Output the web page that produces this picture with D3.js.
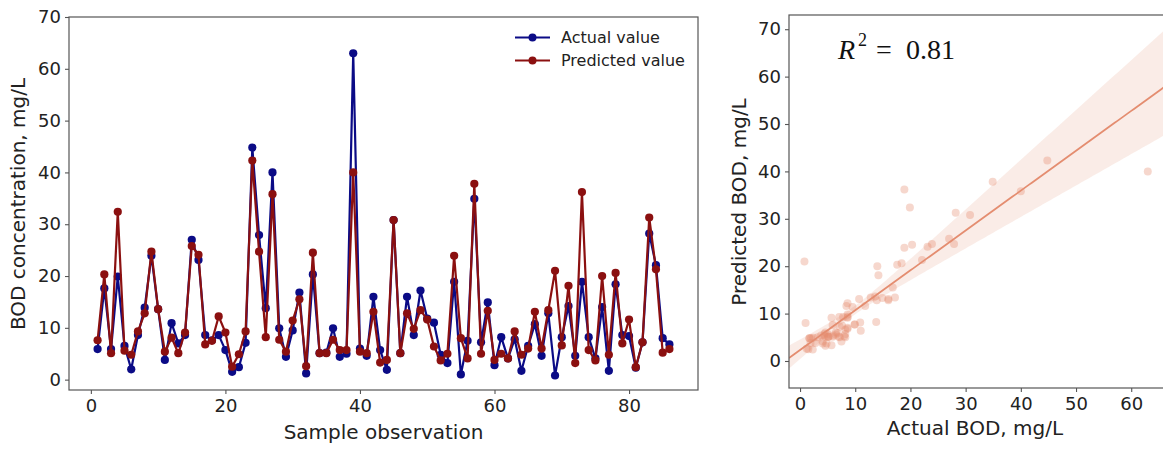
<!DOCTYPE html>
<html>
<head>
<meta charset="utf-8">
<script src="https://cdn.jsdelivr.net/npm/d3@7"></script>
<style>
  body { margin: 0; background: #fff; }
  text { font-family: "DejaVu Sans", sans-serif; fill: #222; }
  text.serif { font-family: "Liberation Serif", serif; fill: #111; }
</style>
</head>
<body>
<svg id="chart" width="1163" height="449"></svg>
<script>
// BOD concentration (mg/L) per sample observation
const actualBOD = [5.9, 17.6, 5.9, 19.9, 6.5, 2.0, 8.6, 13.9, 23.9, 13.6,
  3.8, 10.9, 7.0, 8.6, 27.0, 23.1, 8.6, 7.6, 8.6, 5.7,
  1.5, 2.4, 7.1, 44.8, 27.9, 13.8, 40.0, 9.9, 4.4, 9.5,
  16.8, 1.2, 20.3, 5.1, 5.2, 9.9, 4.4, 5.0, 63.0, 6.0,
  4.6, 16.0, 5.7, 1.9, 30.8, 5.1, 16.0, 8.6, 17.2, 11.8,
  11.0, 4.8, 3.2, 18.9, 1.0, 7.5, 34.9, 7.2, 14.9, 2.8,
  8.2, 4.1, 7.8, 1.7, 6.5, 10.7, 4.6, 12.8, 0.8, 8.2,
  14.2, 4.6, 18.9, 8.2, 4.1, 14.0, 1.7, 18.4, 8.6, 8.4,
  2.3, 7.2, 28.2, 22.1, 8.0, 6.8];

const predictedBOD = [7.6, 20.3, 5.1, 32.4, 5.6, 4.8, 9.3, 12.8, 24.7, 13.6,
  5.4, 8.1, 5.1, 9.1, 25.8, 24.1, 6.8, 7.5, 12.2, 9.1,
  2.5, 4.9, 9.3, 42.3, 24.7, 8.2, 35.8, 7.7, 5.4, 11.4,
  15.5, 2.6, 24.5, 5.1, 5.1, 7.7, 5.7, 5.7, 40.0, 5.4,
  5.1, 13.1, 3.3, 3.8, 30.8, 5.1, 12.8, 9.8, 13.4, 11.6,
  6.4, 3.7, 5.0, 23.9, 8.0, 4.1, 37.8, 5.0, 13.3, 3.8,
  5.0, 4.1, 9.3, 4.8, 6.0, 13.1, 6.0, 13.4, 21.0, 6.6,
  18.1, 3.2, 36.2, 5.7, 3.7, 20.0, 4.8, 20.6, 7.0, 11.6,
  2.4, 7.2, 31.3, 21.3, 5.2, 5.9];

const seriesNames = ["Actual value", "Predicted value"];
const seriesColors = ["#0b0b86", "#8b1010"];

const lineXTicks = [0, 20, 40, 60, 80];
const lineYTicks = [0, 10, 20, 30, 40, 50, 60, 70];
const scatterXTicks = [0, 10, 20, 30, 40, 50, 60];
const scatterYTicks = [0, 10, 20, 30, 40, 50, 60, 70];
const r2Label = "0.81";

const svg = d3.select("#chart");
const spineColor = "#555";

function styleAxis(g) {
  g.select(".domain").remove();
  g.selectAll(".tick line").attr("stroke", spineColor).attr("stroke-width", 1.1);
  g.selectAll(".tick text").attr("font-size", 18).attr("fill", "#222");
}

// ---------- Left panel: observed vs predicted series ----------
const obs = actualBOD.map((_, i) => i + 1);
const xL = d3.scaleLinear().domain([-3.25, 90.25]).range([69, 698]);
const yL = d3.scaleLinear().domain([-2, 70]).range([390, 17]);

const left = svg.append("g");
left.append("g").attr("transform", "translate(0,390)")
  .call(d3.axisBottom(xL).tickValues(lineXTicks).tickSize(4).tickPadding(5))
  .call(styleAxis);
left.append("g").attr("transform", "translate(69,0)")
  .call(d3.axisLeft(yL).tickValues(lineYTicks).tickSize(4).tickPadding(4))
  .call(styleAxis);
left.append("rect").attr("x", 69).attr("y", 17).attr("width", 629).attr("height", 373)
  .attr("fill", "none").attr("stroke", spineColor).attr("stroke-width", 1.2);

[actualBOD, predictedBOD].forEach((vals, k) => {
  const line = d3.line().x((d, i) => xL(obs[i])).y(d => yL(d));
  left.append("path").datum(vals).attr("d", line)
    .attr("fill", "none").attr("stroke", seriesColors[k]).attr("stroke-width", 2.2)
    .attr("stroke-linejoin", "round");
  left.selectAll(null).data(vals).enter().append("circle")
    .attr("cx", (d, i) => xL(obs[i])).attr("cy", d => yL(d)).attr("r", 4.1)
    .attr("fill", seriesColors[k]);
});

left.append("text").attr("x", xL(43.5)).attr("y", 439).attr("text-anchor", "middle")
  .attr("font-size", 20).text("Sample observation");
left.append("text").attr("transform", "translate(25,204) rotate(-90)")
  .attr("text-anchor", "middle").attr("font-size", 20).text("BOD concentration, mg/L");

// legend
const leg = left.append("g");
seriesNames.forEach((name, k) => {
  const ly = 37.5 + k * 23;
  leg.append("line").attr("x1", 515).attr("x2", 550).attr("y1", ly).attr("y2", ly)
    .attr("stroke", seriesColors[k]).attr("stroke-width", 2.2);
  leg.append("circle").attr("cx", 532.5).attr("cy", ly).attr("r", 4).attr("fill", seriesColors[k]);
  leg.append("text").attr("x", 561).attr("y", ly).attr("dy", "0.35em")
    .attr("font-size", 16).text(name);
});

// ---------- Right panel: regression of predicted on actual ----------
const xR = d3.scaleLinear().domain([-2, 66.3]).range([789, 1166]);
const yR = d3.scaleLinear().domain([-5.7, 73]).range([388, 15]);
const regColor = "#e48d70";

// ordinary least squares fit
const n = actualBOD.length;
const sx = d3.sum(actualBOD), sy = d3.sum(predictedBOD);
const sxx = d3.sum(actualBOD, d => d * d);
const sxy = d3.sum(actualBOD, (d, i) => d * predictedBOD[i]);
const det = n * sxx - sx * sx;
const slope = (n * sxy - sx * sy) / det;
const intercept = (sy - slope * sx) / n;

// heteroskedasticity-robust (sandwich) covariance of the coefficients
const res = predictedBOD.map((p, i) => p - (intercept + slope * actualBOD[i]));
const m00 = d3.sum(res, e => e * e);
const m01 = d3.sum(res, (e, i) => actualBOD[i] * e * e);
const m11 = d3.sum(res, (e, i) => actualBOD[i] * actualBOD[i] * e * e);
const inv = [[sxx / det, -sx / det], [-sx / det, n / det]];
function mul(A, B) {
  return [[A[0][0] * B[0][0] + A[0][1] * B[1][0], A[0][0] * B[0][1] + A[0][1] * B[1][1]],
          [A[1][0] * B[0][0] + A[1][1] * B[1][0], A[1][0] * B[0][1] + A[1][1] * B[1][1]]];
}
const V = mul(mul(inv, [[m00, m01], [m01, m11]]), inv);
const xs = d3.range(-2, 66.31, 0.5);
const band = xs.map(x => {
  const se = Math.sqrt(V[0][0] + 2 * x * V[0][1] + x * x * V[1][1]);
  const f = intercept + slope * x;
  return { x, lo: f - 1.96 * se, hi: f + 2.3 * se, f };
});

const right = svg.append("g");
const clipR = svg.append("clipPath").attr("id", "clipR");
clipR.append("rect").attr("x", 789).attr("y", 15).attr("width", 377).attr("height", 373);

right.append("path").datum(band).attr("clip-path", "url(#clipR)")
  .attr("d", d3.area().x(d => xR(d.x)).y0(d => yR(d.lo)).y1(d => yR(d.hi)))
  .attr("fill", regColor).attr("fill-opacity", 0.17);

right.append("g").attr("clip-path", "url(#clipR)").selectAll("circle")
  .data(actualBOD).enter().append("circle")
  .attr("cx", d => xR(d)).attr("cy", (d, i) => yR(predictedBOD[i])).attr("r", 4)
  .attr("fill", regColor).attr("fill-opacity", 0.35);

right.append("path").datum(band).attr("clip-path", "url(#clipR)")
  .attr("d", d3.line().x(d => xR(d.x)).y(d => yR(d.f)))
  .attr("fill", "none").attr("stroke", regColor).attr("stroke-width", 1.8);

right.append("g").attr("transform", "translate(0,388)")
  .call(d3.axisBottom(xR).tickValues(scatterXTicks).tickSize(4).tickPadding(5))
  .call(styleAxis);
right.append("g").attr("transform", "translate(789,0)")
  .call(d3.axisLeft(yR).tickValues(scatterYTicks).tickSize(4).tickPadding(4))
  .call(styleAxis);
right.append("rect").attr("x", 789).attr("y", 15).attr("width", 377).attr("height", 373)
  .attr("fill", "none").attr("stroke", spineColor).attr("stroke-width", 1.2);

right.append("text").attr("x", 975).attr("y", 435).attr("text-anchor", "middle")
  .attr("font-size", 20).text("Actual BOD, mg/L");
right.append("text").attr("transform", "translate(746,202) rotate(-90)")
  .attr("text-anchor", "middle").attr("font-size", 20).text("Predicted BOD, mg/L");

// coefficient of determination annotation
const r2 = right.append("g");
r2.append("text").attr("class", "serif").attr("x", 838).attr("y", 59)
  .attr("font-size", 28).attr("font-style", "italic").text("R");
r2.append("text").attr("class", "serif").attr("x", 858).attr("y", 46)
  .attr("font-size", 18).text("2");
r2.append("text").attr("class", "serif").attr("x", 876).attr("y", 59)
  .attr("font-size", 28).text("=");
r2.append("text").attr("class", "serif").attr("x", 906).attr("y", 59)
  .attr("font-size", 28).text(r2Label);
</script>
</body>
</html>
